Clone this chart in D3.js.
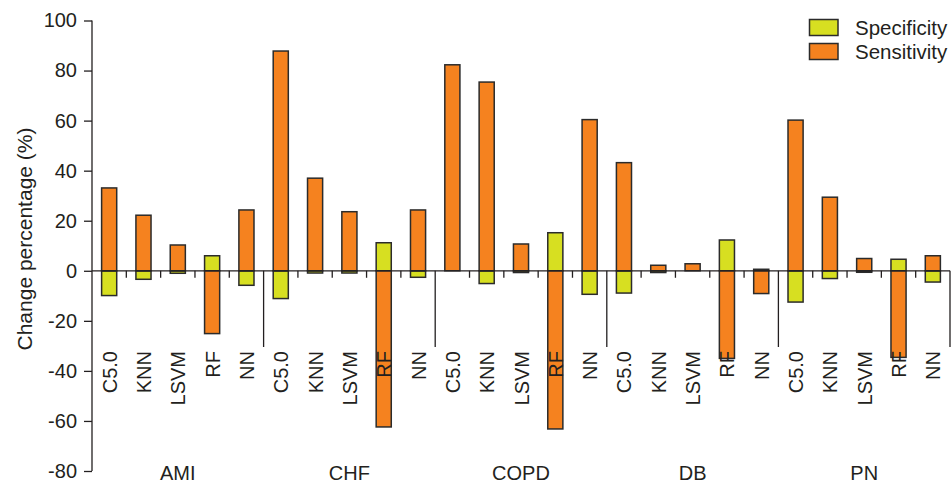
<!DOCTYPE html>
<html>
<head>
<meta charset="utf-8">
<script src="https://cdn.jsdelivr.net/npm/d3@7"></script>
<style>
  body { margin: 0; background: #fff; }
  text { font-family: "Liberation Sans", Arial, sans-serif; fill: #231f20; }
</style>
</head>
<body>
<svg id="chart" width="952" height="485"></svg>
<script>
// diseases and models
var diseases = ["AMI", "CHF", "COPD", "DB", "PN"];
var models = ["C5.0", "KNN", "LSVM", "RF", "NN"];

// change percentage, one row per disease, columns follow models
var specificity = [
  [-9.9, -3.4, -1.0, 6.0, -5.8],
  [-11.1, -0.9, -0.9, 11.2, -2.6],
  [0, -5.1, -0.7, 15.2, -9.4],
  [-8.9, -0.7, 0, 12.3, 0.6],
  [-12.5, -3.1, -0.6, 4.6, -4.5]
];
var sensitivity = [
  [33.1, 22.2, 10.3, -25.1, 24.3],
  [87.8, 37.0, 23.6, -62.4, 24.3],
  [82.3, 75.4, 10.7, -63.2, 60.4],
  [43.2, 2.2, 2.8, -35.0, -9.1],
  [60.2, 29.4, 4.9, -34.6, 6.0]
];
var yTicks = [-80, -60, -40, -20, 0, 20, 40, 60, 80, 100];
var seriesNames = ["Specificity", "Sensitivity"];
var seriesColors = ["#d7df21", "#f5821f"];

var svg = d3.select("#chart");
var left = 92, right = 950;

var y = d3.scaleLinear().domain([-80, 100]).range([471, 20.5]);
var x0 = d3.scaleBand().domain(diseases).range([left, right]);
var x1 = d3.scaleBand().domain(models).range([0, x0.bandwidth()])
  .paddingInner(0.56).paddingOuter(0.28);
var step = x1.step();

// flatten into one row per bar
var rows = [];
diseases.forEach(function (dis, i) {
  models.forEach(function (m, j) {
    rows.push({ dis: dis, model: m, spec: specificity[i][j], sens: sensitivity[i][j] });
  });
});

var g = svg.append("g");

// bars: specificity first, sensitivity drawn over it
[["spec", 0], ["sens", 1]].forEach(function (s) {
  g.selectAll("rect." + s[0])
    .data(rows)
    .enter().append("rect")
    .attr("class", s[0])
    .attr("x", d => x0(d.dis) + x1(d.model))
    .attr("width", x1.bandwidth())
    .attr("y", d => y(Math.max(0, d[s[0]])))
    .attr("height", d => Math.abs(y(d[s[0]]) - y(0)))
    .style("fill", seriesColors[s[1]])
    .style("stroke", "#2b2b2b")
    .style("stroke-width", 1.5);
});

// zero line
g.append("line")
  .attr("x1", left).attr("x2", right)
  .attr("y1", y(0)).attr("y2", y(0))
  .style("stroke", "#231f20").style("stroke-width", 1.3);

// small ticks between models
var small = [];
diseases.forEach(function (dis) {
  for (var k = 1; k < models.length; k++) small.push(x0(dis) + k * step);
});
g.selectAll("line.small")
  .data(small)
  .enter().append("line")
  .attr("class", "small")
  .attr("x1", d => d).attr("x2", d => d)
  .attr("y1", y(0)).attr("y2", y(0) + 7)
  .style("stroke", "#231f20").style("stroke-width", 1.3);

// long separators between diseases
g.selectAll("line.sep")
  .data(diseases)
  .enter().append("line")
  .attr("class", "sep")
  .attr("x1", d => x0(d) + x0.bandwidth()).attr("x2", d => x0(d) + x0.bandwidth())
  .attr("y1", y(0)).attr("y2", 347)
  .style("stroke", "#231f20").style("stroke-width", 1.3);

// model labels
g.selectAll("text.model")
  .data(rows)
  .enter().append("text")
  .attr("class", "model")
  .attr("transform", d => "translate(" + (x0(d.dis) + x1(d.model) + x1.bandwidth() / 2 + 7.5) + ",351) rotate(-90)")
  .attr("text-anchor", "end")
  .style("font-size", "20px")
  .text(d => d.model);

// disease labels
g.selectAll("text.dis")
  .data(diseases)
  .enter().append("text")
  .attr("class", "dis")
  .attr("x", d => x0(d) + x0.bandwidth() / 2)
  .attr("y", 480)
  .attr("text-anchor", "middle")
  .style("font-size", "20px")
  .text(d => d);

// y axis
var yAxis = svg.append("g")
  .attr("transform", "translate(" + left + ",0)")
  .call(d3.axisLeft(y).tickValues(yTicks).tickSize(8).tickPadding(7)
    .tickFormat(d => String(d)));
yAxis.select(".domain").attr("d", "M0," + y(100) + "V" + y(-80))
  .style("stroke", "#231f20").style("stroke-width", 1.3);
yAxis.selectAll(".tick line").style("stroke", "#231f20").style("stroke-width", 1.3);
yAxis.selectAll(".tick text")
  .style("font-size", "20px")
  .style("font-family", "'Liberation Sans', Arial, sans-serif")
  .style("fill", "#231f20");

svg.append("text")
  .attr("transform", "translate(32,239) rotate(-90)")
  .attr("text-anchor", "middle")
  .style("font-size", "21px")
  .text("Change percentage (%)");

// legend
var leg = svg.append("g").attr("transform", "translate(809.5,19.5)");
seriesNames.forEach(function (n, i) {
  leg.append("rect")
    .attr("x", 0).attr("y", i * 24)
    .attr("width", 28.5).attr("height", 16)
    .style("fill", seriesColors[i])
    .style("stroke", "#2b2b2b").style("stroke-width", 1.5);
  leg.append("text")
    .attr("x", 45.5).attr("y", i * 24 + 15.5)
    .style("font-size", "20.5px")
    .text(n);
});
</script>
</body>
</html>
